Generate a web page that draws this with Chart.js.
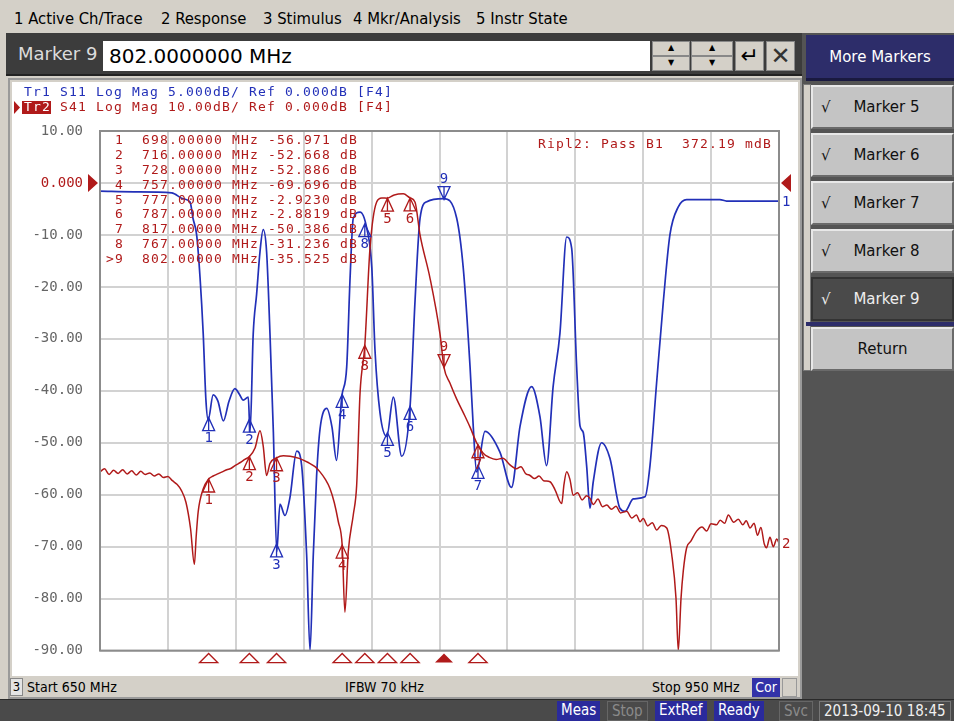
<!DOCTYPE html>
<html>
<head>
<meta charset="utf-8">
<script src="https://cdn.jsdelivr.net/npm/chart.js@4.4.0/dist/chart.umd.min.js"></script>
<style>
body{margin:0;width:954px;height:721px;overflow:hidden;background:#d4d0c8;position:relative;font-family:"DejaVu Sans",sans-serif}
.a{position:absolute;box-sizing:border-box;white-space:nowrap}
.cond{font-family:"DejaVu Sans Condensed","DejaVu Sans",sans-serif;font-stretch:condensed}
.menu{top:9px;font-size:16.5px;color:#000}
.btn{left:811px;width:143px;height:44px;background:#c4c4c4;border-top:2px solid #e8e8e8;border-left:2px solid #e8e8e8;border-bottom:2px solid #6a6a6a;border-right:2px solid #6a6a6a;font-size:15px;color:#111;line-height:40px}
.btn .ck{position:absolute;left:8px;top:0;font-size:15px}
.btn .t{position:absolute;left:0;right:0;text-align:center;padding-left:8px}
.st{top:701px;height:20px;font-size:15px;line-height:19px;padding:0 4px}
</style>
</head>
<body>
<!-- top menu -->
<div class="a cond menu" style="left:14px">1 Active Ch/Trace</div>
<div class="a cond menu" style="left:161px">2 Response</div>
<div class="a cond menu" style="left:263px">3 Stimulus</div>
<div class="a cond menu" style="left:353px">4 Mkr/Analysis</div>
<div class="a cond menu" style="left:476px">5 Instr State</div>

<!-- marker entry bar -->
<div class="a" style="left:6px;top:33px;width:796px;height:43px;background:#3c3c3c;border-bottom:2px solid #222"></div>
<div class="a" style="left:18px;top:43px;font-size:18px;color:#dcdcdc">Marker 9</div>
<div class="a" style="left:103px;top:41px;width:547px;height:30px;background:#fff;font-size:20px;line-height:30px;padding-left:6px;color:#000">802.0000000 MHz</div>
<div class="a" style="left:652px;top:41px;width:38px;height:15px;background:#d4d0c8;border:1px solid #888;font-size:8px;text-align:center;line-height:12px">▲</div>
<div class="a" style="left:652px;top:56px;width:38px;height:15px;background:#d4d0c8;border:1px solid #888;font-size:8px;text-align:center;line-height:12px">▼</div>
<div class="a" style="left:691px;top:41px;width:42px;height:15px;background:#d4d0c8;border:1px solid #888;font-size:8px;text-align:center;line-height:12px">▲</div>
<div class="a" style="left:691px;top:56px;width:42px;height:15px;background:#d4d0c8;border:1px solid #888;font-size:8px;text-align:center;line-height:12px">▼</div>
<div class="a" style="left:735px;top:41px;width:29px;height:30px;background:#d4d0c8;border:1px solid #888;font-size:22px;text-align:center;line-height:28px">↵</div>
<div class="a" style="left:766px;top:41px;width:29px;height:30px;background:#d4d0c8;border:1px solid #888;font-size:24px;text-align:center;line-height:28px;color:#333">✕</div>

<!-- right softkey panel -->
<div class="a" style="left:802px;top:33px;width:152px;height:668px;background:#545454"></div>
<div class="a" style="left:803px;top:84px;width:8px;height:287px;background:#d4d0c8;border:1px solid #777"></div>
<div class="a" style="left:806px;top:35px;width:148px;height:46px;background:#2d2d6a;border-bottom:3px solid #1a1a40;color:#fff;font-size:15px;text-align:center;line-height:44px">More Markers</div>
<div class="a btn" style="top:85px"><span class="ck">√</span><span class="t">Marker 5</span></div>
<div class="a btn" style="top:133px"><span class="ck">√</span><span class="t">Marker 6</span></div>
<div class="a btn" style="top:181px"><span class="ck">√</span><span class="t">Marker 7</span></div>
<div class="a btn" style="top:229px"><span class="ck">√</span><span class="t">Marker 8</span></div>
<div class="a btn" style="top:277px;background:#4a4a4a;color:#eee;border-color:#333"><span class="ck">√</span><span class="t">Marker 9</span></div>
<div class="a" style="left:806px;top:322px;width:148px;height:4px;background:#2d2d6a"></div>
<div class="a btn" style="top:327px"><span class="t" style="padding-left:0">Return</span></div>

<!-- chart panel -->
<div class="a" style="left:8px;top:78px;width:794px;height:621px;background:#d4d0c8;border:2px solid #9a9a9a"></div>
<div class="a" style="left:12px;top:82px;width:786px;height:594px;background:#fff"></div>
<canvas id="chart" class="a" width="786" height="594" style="left:12px;top:82px"></canvas>

<!-- stimulus strip -->
<div class="a cond" style="left:10px;top:678px;width:13px;height:18px;background:#e4e4e4;border:1px solid #888;font-size:13px;line-height:16px;text-align:center">3</div>
<div class="a cond" style="left:27px;top:679px;font-size:14px">Start 650 MHz</div>
<div class="a cond" style="left:345px;top:679px;font-size:14px">IFBW 70 kHz</div>
<div class="a cond" style="left:652px;top:679px;font-size:14px">Stop 950 MHz</div>
<div class="a cond" style="left:752px;top:678px;width:28px;height:19px;background:#3232a8;color:#fff;font-size:14px;line-height:18px;text-align:center">Cor</div>
<div class="a" style="left:782px;top:678px;width:15px;height:19px;background:#d4d0c8;border:1px solid #999"></div>

<!-- status bar -->
<div class="a" style="left:0;top:699px;width:954px;height:22px;background:#4a4a4a;border-top:1px solid #2a2a2a"></div>
<div class="a cond st" style="left:557px;background:#2a2a9c;color:#fff">Meas</div>
<div class="a cond st" style="left:607px;color:#8a8a8a;border:1px solid #666">Stop</div>
<div class="a cond st" style="left:655px;background:#2a2a9c;color:#fff">ExtRef</div>
<div class="a cond st" style="left:714px;background:#2a2a9c;color:#fff">Ready</div>
<div class="a cond st" style="left:779px;color:#8a8a8a;border:1px solid #666">Svc</div>
<div class="a cond st" style="left:819px;color:#f0f0f0;border:1px solid #777">2013-09-10 18:45</div>

<script>
// Tr2 S41, dB (10 dB/div)
const s41Freq = [650, 652, 654, 656, 658, 660, 662, 664, 666, 668, 670, 672, 674, 676, 678, 680, 682, 684, 686, 688,
  690, 691.7, 692.5, 693.4, 695.5, 698, 700, 702, 704, 706, 708, 710, 712, 714, 716, 718.5, 720.7, 722.1, 723.6, 725.1,
  728, 731, 734, 738, 742, 745, 747.2, 749.5, 751.6, 753.5, 755.3, 757, 758.2, 759.7, 761.9, 763.4, 764.9, 767, 769.3, 772.2,
  774.5, 777, 780, 784, 787, 789.2, 791.4, 795.8, 800.2, 802, 804.6, 807.5, 810.5, 813.5, 816.4, 817, 819.3, 822, 825, 828,
  831, 834, 836, 838, 840, 842, 844, 846, 848.8, 851, 854, 855, 856.2, 857.6, 859.1, 861, 863, 865, 866.5, 868,
  870, 872, 873.9, 876, 878, 880, 882.7, 885, 887, 888.6, 890, 892, 894, 896, 898, 900.4, 902.6, 904.5, 905.5, 906.7,
  907.7, 909.2, 911, 913.6, 916, 918, 920, 922.4, 924, 926, 927.6, 930, 932, 934, 935.5, 937.2, 939, 940.5, 942, 943.5,
  944.5, 946, 947.5, 949, 950];
const s41Db = [-55.6, -55.0, -56.1, -55.3, -55.9, -55.2, -56.0, -55.4, -56.2, -55.5, -56.1, -55.8, -56.4, -56.0, -56.7, -56.5, -57.3, -58.0, -59.2, -61.5,
  -66.5, -73.4, -68.0, -63.2, -59.0, -56.97, -56.4, -56.0, -55.6, -55.2, -54.9, -54.3, -53.8, -53.2, -52.67, -51.0, -47.7, -50.6, -56.3, -54.0,
  -52.89, -52.5, -52.6, -53.0, -53.8, -54.6, -55.6, -57.0, -58.8, -61.5, -65.2, -69.7, -82.6, -70.9, -63.9, -58.2, -40.4, -31.24, -12.5, -3.7,
  -2.9, -2.92, -2.3, -2.1, -2.88, -3.7, -10.0, -18.3, -29.0, -35.53, -38.5, -41.5, -44.2, -47.0, -50.0, -50.39, -52.0, -52.8, -53.2, -53.0,
  -54.2, -55.0, -54.6, -55.9, -56.3, -56.9, -56.4, -57.3, -57.5, -59.0, -61.7, -58.0, -55.6, -57.0, -60.1, -59.6, -61.0, -60.2, -60.7, -61.9,
  -60.8, -62.3, -62.0, -62.8, -62.2, -63.5, -63.2, -64.5, -63.9, -65.2, -64.6, -66.0, -65.4, -66.8, -65.9, -66.4, -71.5, -80.0, -90.0, -80.0,
  -74.7, -70.2, -69.0, -67.0, -66.2, -67.0, -65.6, -65.8, -64.9, -65.5, -63.9, -65.3, -64.7, -65.8, -65.0, -66.4, -65.5, -67.8, -66.3, -69.5,
  -70.2, -68.2, -70.0, -68.5, -69.3];

// Tr1 S11, dB (5 dB/div)
const s11Freq = [650, 665, 681.7, 686.7, 689.8, 691.1, 692.7, 694.2, 695.6, 696.8, 697.8, 700, 702.1, 704.5, 707, 709.6, 711.5, 713.3, 715.5, 716.3,
  717.7, 719.2, 720.7, 722.1, 723.6, 725.1, 726.6, 728.1, 729.5, 731.7, 733.9, 736.9, 739.1, 741.3, 742.8, 744.2, 745.7, 747.2, 750.2, 752.5,
  754.5, 756.8, 759, 760.5, 761.9, 764.9, 767.9, 770.1, 771.5, 773.7, 776.7, 779.6, 783.3, 787, 789.2, 791.4, 794.4, 801.7, 807.6, 810.5,
  813.5, 814.9, 816.4, 820.1, 826.7, 831.8, 835.6, 840.7, 844.4, 847.3, 850.2, 853.2, 856.2, 858.4, 860.6, 862.1, 863.5, 865, 866.5, 867.9,
  871.6, 875.3, 879.7, 882, 885.6, 890.8, 893, 895.9, 898.9, 901.8, 905.5, 909.2, 923.9, 926.8, 950];
const s11Db = [-0.79, -0.85, -0.95, -1.52, -1.84, -3.42, -5.0, -9.1, -14.5, -20.9, -22.8, -20.4, -21.0, -22.9, -21.0, -19.8, -20.3, -20.9, -20.6, -24.0,
  -14.5, -10.7, -6.6, -4.5, -6.6, -14.5, -24.0, -35.5, -30.9, -32.0, -30.3, -25.8, -27.2, -35.8, -45.0, -36.0, -28.2, -23.7, -21.7, -23.5,
  -26.7, -20.6, -17.7, -9.1, -3.4, -2.8, -4.4, -8.2, -16.1, -22.1, -24.4, -20.6, -26.3, -21.5, -11.3, -3.4, -1.8, -1.5, -3.4, -8.2,
  -17.7, -23.4, -27.8, -23.9, -25.9, -29.3, -23.4, -19.6, -22.5, -27.2, -19.6, -14.5, -5.2, -6.3, -17.7, -23.4, -24.0, -27.2, -31.3, -28.8,
  -25.0, -26.5, -31.3, -31.6, -30.4, -30.2, -27.2, -19.3, -11.4, -5.0, -2.3, -1.6, -1.6, -1.74, -1.74];

// markers (readout of active trace Tr2)
const markerNums = [1, 2, 3, 4, 5, 6, 7, 8, 9];
const markerFreq = [698, 716, 728, 757, 777, 787, 817, 767, 802];
const markerS41 = [-56.971, -52.668, -52.886, -69.696, -2.9230, -2.8819, -50.386, -31.236, -35.525];
const activeMarker = 9;

const yTicks = [10, 0, -10, -20, -30, -40, -50, -60, -70, -80, -90];

const RED = '#b01a1a';
const BLUE = '#2230b8';
const MONO = '"DejaVu Sans Mono", "Liberation Mono", monospace';

function pts(fs, vs) { return fs.map((f, i) => ({x: f, y: vs[i]})); }

function interp(fs, vs, f) {
  for (let i = 1; i < fs.length; i++) {
    if (f <= fs[i]) {
      const t = (f - fs[i - 1]) / (fs[i] - fs[i - 1]);
      return vs[i - 1] + t * (vs[i] - vs[i - 1]);
    }
  }
  return vs[vs.length - 1];
}

// monospace text with the analyzer's wide pitch
function mono(ctx, str, x, y, step) {
  for (let i = 0; i < str.length; i++) ctx.fillText(str[i], x + i * step, y);
}

function marker(ctx, px, py, num, color, active) {
  ctx.strokeStyle = color;
  ctx.fillStyle = color;
  ctx.lineWidth = 1.3;
  ctx.font = '14px ' + MONO;
  ctx.textAlign = 'center';
  ctx.beginPath();
  if (active) {
    ctx.moveTo(px, py);
    ctx.lineTo(px - 6, py - 13);
    ctx.lineTo(px + 6, py - 13);
    ctx.closePath();
    ctx.moveTo(px, py); ctx.lineTo(px, py - 13);
    ctx.stroke();
    ctx.textBaseline = 'bottom';
    ctx.fillText(String(num), px, py - 13);
  } else {
    ctx.moveTo(px, py);
    ctx.lineTo(px - 6, py + 13);
    ctx.lineTo(px + 6, py + 13);
    ctx.closePath();
    ctx.moveTo(px, py); ctx.lineTo(px, py + 13);
    ctx.stroke();
    ctx.textBaseline = 'top';
    ctx.fillText(String(num), px, py + 14);
  }
}

const overlay = {
  id: 'overlay',
  afterDatasetsDraw(chart) {
    const {ctx, chartArea: a} = chart;
    const x = chart.scales.x, y = chart.scales.y, y2 = chart.scales.y2;
    ctx.save();

    // plot frame
    ctx.strokeStyle = '#8c8c8c';
    ctx.lineWidth = 2;
    ctx.strokeRect(a.left, a.top, a.right - a.left, a.bottom - a.top);

    // trace headers
    ctx.font = '13px ' + MONO;
    ctx.textAlign = 'left';
    ctx.textBaseline = 'middle';
    ctx.fillStyle = BLUE;
    mono(ctx, 'Tr1 S11 Log Mag 5.000dB/ Ref 0.000dB [F4]', 12, 11, 9);
    ctx.fillStyle = RED;
    ctx.fillRect(10, 19, 29, 13);
    ctx.beginPath();
    ctx.moveTo(2, 19); ctx.lineTo(8, 25.5); ctx.lineTo(2, 32); ctx.closePath(); ctx.fill();
    ctx.fillStyle = '#fff';
    mono(ctx, 'Tr2', 12, 25.5, 9);
    ctx.fillStyle = RED;
    mono(ctx, 'S41 Log Mag 10.00dB/ Ref 0.000dB [F4]', 48, 25.5, 9);

    // marker readout table
    markerNums.forEach((n, i) => {
      const line = (n === activeMarker ? '>' : ' ') + n + '  ' + markerFreq[i].toFixed(5) + ' MHz ' +
        markerS41[i].toPrecision(5) + ' dB';
      mono(ctx, line, 94, 59 + i * 14.8, 9);
    });
    mono(ctx, 'Ripl2: Pass B1  372.19 mdB', 526, 63, 9);

    // reference level arrows
    const y0 = y.getPixelForValue(0);
    ctx.beginPath();
    ctx.moveTo(a.left - 12, y0 - 9); ctx.lineTo(a.left - 2, y0); ctx.lineTo(a.left - 12, y0 + 9); ctx.closePath();
    ctx.moveTo(a.right + 12, y0 - 9); ctx.lineTo(a.right + 2, y0); ctx.lineTo(a.right + 12, y0 + 9); ctx.closePath();
    ctx.fill();

    // trace end labels
    ctx.font = '14px ' + MONO;
    ctx.fillStyle = BLUE;
    ctx.fillText('1', a.right + 3, y2.getPixelForValue(s11Db[s11Db.length - 1]) + 1);
    ctx.fillStyle = RED;
    ctx.fillText('2', a.right + 3, y.getPixelForValue(s41Db[s41Db.length - 1]) + 1);

    // markers on both traces
    markerNums.forEach((n, i) => {
      const px = x.getPixelForValue(markerFreq[i]);
      const active = n === activeMarker;
      marker(ctx, px, y2.getPixelForValue(interp(s11Freq, s11Db, markerFreq[i])), n, BLUE, active);
      marker(ctx, px, y.getPixelForValue(markerS41[i]), n, RED, active);
      // stimulus position indicators under the grid
      ctx.beginPath();
      ctx.moveTo(px, a.bottom + 3); ctx.lineTo(px - 9, a.bottom + 12); ctx.lineTo(px + 9, a.bottom + 12); ctx.closePath();
      ctx.strokeStyle = RED; ctx.fillStyle = RED; ctx.lineWidth = 1.4;
      if (active) ctx.fill(); else ctx.stroke();
    });
    ctx.restore();
  }
};

new Chart(document.getElementById('chart'), {
  type: 'line',
  data: {
    datasets: [{
      label: 'S41',
      data: pts(s41Freq, s41Db),
      yAxisID: 'y',
      borderColor: RED,
      borderWidth: 1.5,
      pointRadius: 0,
      cubicInterpolationMode: 'monotone'
    }, {
      label: 'S11',
      data: pts(s11Freq, s11Db),
      yAxisID: 'y2',
      borderColor: BLUE,
      borderWidth: 1.7,
      pointRadius: 0,
      cubicInterpolationMode: 'monotone'
    }]
  },
  options: {
    responsive: false,
    animation: false,
    devicePixelRatio: 1,
    layout: {padding: {top: 49, right: 19, bottom: 19, left: 0}},
    plugins: {legend: {display: false}, tooltip: {enabled: false}},
    scales: {
      x: {
        type: 'linear',
        min: 650,
        max: 950,
        ticks: {display: false, stepSize: 30},
        grid: {color: '#d2d2d2', lineWidth: 2, drawTicks: false},
        border: {display: false},
        afterFit(s) { s.height = 0; }
      },
      y: {
        min: -90,
        max: 10,
        afterBuildTicks(s) { s.ticks = yTicks.map(v => ({value: v})); },
        ticks: {
          autoSkip: false,
          padding: 17,
          font: {family: MONO, size: 14},
          color: c => (c.tick && c.tick.value === 0 ? RED : '#666'),
          callback: v => (v === 0 ? '0.000' : v.toFixed(2))
        },
        grid: {color: '#d2d2d2', lineWidth: 2, drawTicks: false},
        border: {display: false},
        afterFit(s) { s.width = 88; }
      },
      y2: {
        display: false,
        min: -45,
        max: 5
      }
    }
  },
  plugins: [overlay]
});
</script>
</body>
</html>
